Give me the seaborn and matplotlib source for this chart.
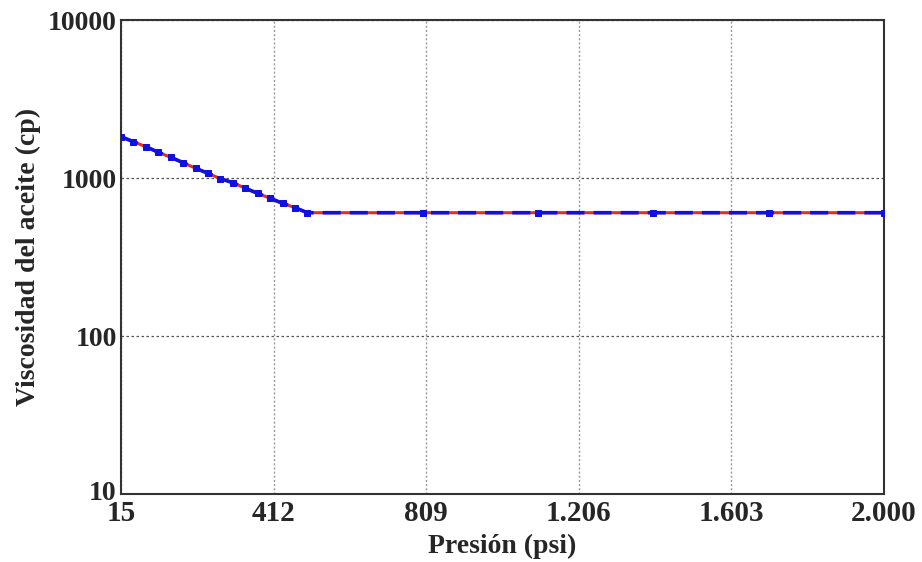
import matplotlib
matplotlib.use("Agg")
import matplotlib.pyplot as plt
import matplotlib.transforms as mtransforms
import seaborn as sns
import pandas as pd
from matplotlib.ticker import FuncFormatter, FixedLocator

pressure = [15, 47.3, 79.7, 112, 144.3, 176.7, 209, 241.3, 273.7, 306, 338.3, 370.7, 403, 435.3, 467.7, 500,
            800, 1100, 1400, 1700, 2000]
viscosity = [1825, 1697, 1578, 1455, 1352, 1250, 1152, 1071, 990, 934, 861, 800, 744, 692, 649, 603,
             603, 603, 603, 603, 603]
x_ticks = [15, 412, 809, 1206, 1603, 2000]
y_ticks = [10, 100, 1000, 10000]

df = pd.DataFrame({"p": pressure, "mu": viscosity})

sns.set_style("white")
plt.rcParams['font.family'] = ['Liberation Serif', 'DejaVu Serif']
plt.rcParams['font.weight'] = 'bold'

fig = plt.figure(figsize=(9.22, 5.62), dpi=100)
ax = fig.add_axes([121/922, 1 - 494/562, (884-121)/922, (494-20)/562])

sns.lineplot(data=df, x="p", y="mu", ax=ax, color="#e03020", lw=2.2, zorder=3)
sns.lineplot(data=df, x="p", y="mu", ax=ax, color="#1010e0", lw=2.6, zorder=4,
             linestyle=(0, (5, 2.5)), marker="s", markersize=4.6, markeredgecolor="#1010e0")

ax.set_yscale("log")
ax.set_xlim(15, 2000)
ax.set_ylim(10, 10000)
ax.xaxis.set_major_locator(FixedLocator(x_ticks))
ax.yaxis.set_major_locator(FixedLocator(y_ticks))
ax.yaxis.set_minor_locator(FixedLocator([]))
ax.xaxis.set_major_formatter(FuncFormatter(lambda v, pos: f"{int(round(v)):,}".replace(",", ".")))
ax.yaxis.set_major_formatter(FuncFormatter(lambda v, pos: f"{int(round(v))}"))

ax.tick_params(axis="y", length=0, labelsize=20, pad=3)
ax.tick_params(axis="x", length=0, labelsize=21, pad=4)
for lab in ax.get_xticklabels() + ax.get_yticklabels():
    lab.set_fontweight("bold")

# nudge the bottom y label up a little so it does not collide with "15"
fig.canvas.draw()
ylabs = ax.get_yticklabels()
ylabs[0].set_transform(ylabs[0].get_transform() +
                       mtransforms.ScaledTranslation(0, 4/100, fig.dpi_scale_trans))

ax.grid(True, axis="x", color="#999999", linestyle=(0, (1.5, 1.5)), lw=1)
ax.grid(True, axis="y", color="#555555", linestyle=(0, (2, 2)), lw=0.9)

for s in ax.spines.values():
    s.set_color("#333333")
    s.set_linewidth(1.5)

ax.set_xlabel("Presión (psi)", fontsize=20, fontweight="bold", labelpad=5)
ax.set_ylabel("Viscosidad del aceite (cp)", fontsize=20, fontweight="bold", labelpad=5)

fig.savefig("out.png", dpi=100)
